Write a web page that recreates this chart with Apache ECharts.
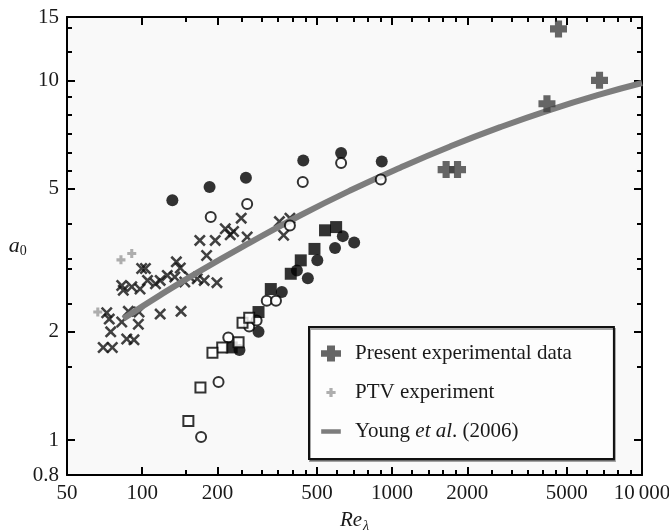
<!DOCTYPE html>
<html><head><meta charset="utf-8">
<script src="https://cdn.jsdelivr.net/npm/echarts@6/dist/echarts.min.js"></script>
<style>html,body{margin:0;padding:0;background:#fff}#c{width:669px;height:530px}</style>
</head><body><div id="c"></div>
<script>
// ---------- data ----------
const presentRe = [1645, 1827, 4165, 4633, 6760];
const presentA0 = [5.65, 5.65, 8.61, 13.9, 10.0];

const ptvRe = [66.4, 82.2, 90.8];
const ptvA0 = [2.27, 3.17, 3.30];

const youngRe = [84, 118, 170, 270, 428, 679, 1077, 1707, 2707, 4291, 6804, 10000];
const youngA0 = [2.175, 2.53, 2.95, 3.54, 4.21, 4.94, 5.72, 6.55, 7.41, 8.28, 9.14, 9.83];

const filledCircleRe = [132, 186, 260, 441, 625, 909, 635, 705, 591, 502, 460, 416, 362, 292, 245];
const filledCircleA0 = [4.64, 5.05, 5.36, 5.99, 6.28, 5.95, 3.69, 3.54, 3.42, 3.16, 2.82, 2.96, 2.58, 2.00, 1.78];

const openCircleRe = [188, 263, 439, 625, 901, 390, 315, 343, 268, 287, 221, 202, 172];
const openCircleA0 = [4.17, 4.53, 5.22, 5.89, 5.30, 3.95, 2.44, 2.44, 2.07, 2.15, 1.93, 1.45, 1.02];

const filledSquareRe = [539, 597, 489, 431, 393, 327, 292, 228];
const filledSquareA0 = [3.83, 3.91, 3.40, 3.16, 2.90, 2.63, 2.27, 1.81];

const openSquareRe = [252, 268, 243, 209, 191, 171, 153];
const openSquareA0 = [2.12, 2.19, 1.87, 1.81, 1.75, 1.40, 1.13];

const crossRe = [69.8, 75.9, 74.8, 86.7, 92.7, 82.8, 72.1, 73.8, 88.0, 96.5, 97.1, 118, 143, 82.8, 84, 90.8, 98, 99.5, 103, 105, 113, 118, 126, 135, 137, 142, 148, 155, 166, 177, 199, 170, 196, 181, 215, 225, 249, 232, 263, 354, 368, 390];
const crossA0 = [1.81, 1.81, 2.00, 1.91, 1.90, 2.13, 2.26, 2.17, 2.28, 2.10, 2.27, 2.24, 2.28, 2.69, 2.61, 2.67, 2.63, 3.00, 3.00, 2.78, 2.72, 2.78, 2.87, 2.84, 3.13, 3.01, 2.75, 2.84, 2.81, 2.78, 2.74, 3.59, 3.59, 3.26, 3.87, 3.72, 4.14, 3.80, 3.67, 4.05, 3.71, 4.14];

// ---------- axis ticks / labels ----------
const xLabels = [50, 100, 200, 500, 1000, 2000, 5000, 10000];
const xMajorTicks = [100, 200, 500, 1000, 2000, 5000];
const xMinorTicks = [150, 250, 300, 350, 400, 450, 600, 700, 800, 900, 1200, 1400, 1600, 1800, 2500, 3000, 3500, 4000, 4500, 6000, 7000, 8000, 9000];
const yLabels = [0.8, 1, 2, 5, 10, 15];
const yMajorTicks = [1, 2, 5, 10];
const yMinorTicks = [1.6, 2.4, 3, 3.2, 4, 5.6, 6.3, 7.1, 8, 9, 12, 14];

const legendNames = ['Present experimental data', 'PTV experiment', 'Young et al. (2006)'];

// ---------- helpers ----------
const zip = (a, b) => a.map((v, i) => [v, b[i]]);
const SERIF = 'Liberation Serif';
const INK = '#1a1a1a';
const FS = 21;
const PLUS_BIG = 'path://M29,0L71,0L71,29L100,29L100,71L71,71L71,100L29,100L29,71L0,71L0,29L29,29Z';
const PLUS_SMALL = 'path://M33,0L67,0L67,33L100,33L100,67L67,67L67,100L33,100L33,67L0,67L0,33L33,33Z';
const X_MARK = 'path://M0,15L15,0L50,35L85,0L100,15L65,50L100,85L85,100L50,65L15,100L0,85L35,50Z';
const ANCH = 'M0,0L0.5,0L0,0.5Z M380,200L379.5,200L380,199.5Z ';
const ICON_PRESENT = 'path://' + ANCH + 'M150,20L230,20L230,68L290,68L290,132L230,132L230,180L150,180L150,132L90,132L90,68L150,68Z';
const ICON_PTV = 'path://' + ANCH + 'M174,55L206,55L206,84L236,84L236,116L206,116L206,145L174,145L174,116L144,116L144,84L174,84Z';
const ICON_YOUNG = 'path://' + ANCH + 'M92,78L288,78L288,122L92,122Z';

function fmt(v) {
  if (Math.abs(v - 10000) < 1e-6) return '10\u2009000';
  return String(+v.toPrecision(6));
}

function xAxisDef(pos, major, withLabels, withLine) {
  return {
    type: 'log', logBase: 10, min: 50, max: 10000, position: pos, z: 3,
    name: withLabels ? '{i|Re}{s|λ}' : '',
    nameLocation: 'middle', nameGap: 32,
    nameTextStyle: { rich: {
      i: { fontFamily: SERIF, fontStyle: 'italic', fontSize: 21, color: INK },
      s: { fontFamily: SERIF, fontStyle: 'italic', fontSize: 14, color: INK, verticalAlign: 'bottom', padding: [12, 0, 0, 1] }
    } },
    axisLine: { show: withLine, lineStyle: { color: '#000', width: 2 } },
    axisTick: { show: true, inside: true, length: major ? 8 : 5, customValues: major ? xMajorTicks : xMinorTicks, lineStyle: { color: '#000', width: 2 } },
    axisLabel: { show: withLabels, customValues: xLabels, formatter: fmt, margin: 8, fontFamily: SERIF, fontSize: FS, color: INK, hideOverlap: false },
    splitLine: { show: false }, minorTick: { show: false }
  };
}
function yAxisDef(pos, major, withLabels, withLine) {
  return {
    type: 'log', logBase: 10, min: 0.8, max: 15, position: pos, z: 3,
    name: withLabels ? '{i|a}{s|0}' : '',
    nameLocation: 'middle', nameGap: 40, nameRotate: 0,
    nameTextStyle: { rich: {
      i: { fontFamily: SERIF, fontStyle: 'italic', fontSize: 22, color: INK },
      s: { fontFamily: SERIF, fontSize: 14, color: INK, verticalAlign: 'bottom', padding: [10, 0, 0, 0] }
    } },
    axisLine: { show: withLine, lineStyle: { color: '#000', width: 2 } },
    axisTick: { show: true, inside: true, length: major ? 8 : 5, customValues: major ? yMajorTicks : yMinorTicks, lineStyle: { color: '#000', width: 2 } },
    axisLabel: { show: withLabels, customValues: yLabels, formatter: fmt, margin: 8, fontFamily: SERIF, fontSize: FS, color: INK, hideOverlap: false },
    splitLine: { show: false }, minorTick: { show: false }
  };
}

const chart = echarts.init(document.getElementById('c'), null, { renderer: 'canvas' });
chart.setOption({
  animation: false,
  backgroundColor: '#ffffff',
  grid: { left: 67, right: 27, top: 17, bottom: 55, containLabel: false, outerBoundsMode: 'none',
          show: true, backgroundColor: '#f9f9f9', borderWidth: 0, z: 0 },
  xAxis: [
    xAxisDef('bottom', true, true, true),
    xAxisDef('bottom', false, false, false),
    xAxisDef('top', true, false, true),
    xAxisDef('top', false, false, false)
  ],
  yAxis: [
    yAxisDef('left', true, true, true),
    yAxisDef('left', false, false, false),
    yAxisDef('right', true, false, true),
    yAxisDef('right', false, false, false)
  ],
  legend: {
    data: [
      { name: legendNames[0], icon: ICON_PRESENT },
      { name: legendNames[1], icon: ICON_PTV },
      { name: legendNames[2], icon: ICON_YOUNG }
    ],
    orient: 'vertical', left: 309, top: 327,
    itemWidth: 38, itemHeight: 20, itemGap: 18,
    padding: [16, 42, 17, 3],
    borderColor: '#111', borderWidth: 2, backgroundColor: '#fdfdfd',
    shadowColor: 'rgba(0,0,0,0.35)', shadowOffsetY: 2, shadowOffsetX: 1, shadowBlur: 0,
    itemStyle: { borderWidth: 0 },
    selectedMode: false,
    formatter: n => n === legendNames[2] ? 'Young {i|et al}. (2006)' : n,
    textStyle: { fontFamily: SERIF, fontSize: FS, color: INK, lineHeight: 20,
      rich: { i: { fontFamily: SERIF, fontStyle: 'italic', fontSize: FS, color: INK, lineHeight: 20 } } }
  },
  series: [
    { name: 'crosses', type: 'scatter', symbol: X_MARK, symbolSize: 12, itemStyle: { color: '#111' }, data: zip(crossRe, crossA0), z: 2 },
    { name: legendNames[2], type: 'line', smooth: true, showSymbol: false, symbol: 'none', lineStyle: { color: '#7d7d7d', width: 6 }, itemStyle: { color: '#7d7d7d' }, data: zip(youngRe, youngA0), z: 3 },
    { name: 'filled circles', type: 'scatter', symbol: 'circle', symbolSize: 12, itemStyle: { color: '#000' }, data: zip(filledCircleRe, filledCircleA0), z: 4 },
    { name: 'open circles', type: 'scatter', symbol: 'circle', symbolSize: 10, itemStyle: { color: '#fff', borderColor: '#000', borderWidth: 2 }, data: zip(openCircleRe, openCircleA0), z: 4 },
    { name: 'filled squares', type: 'scatter', symbol: 'rect', symbolSize: 12, itemStyle: { color: '#000' }, data: zip(filledSquareRe, filledSquareA0), z: 4 },
    { name: 'open squares', type: 'scatter', symbol: 'rect', symbolSize: 10, itemStyle: { color: '#fff', borderColor: '#000', borderWidth: 2 }, data: zip(openSquareRe, openSquareA0), z: 4 },
    { name: legendNames[1], type: 'scatter', symbol: PLUS_SMALL, symbolSize: 9, itemStyle: { color: '#9a9a9a' }, data: zip(ptvRe, ptvA0), z: 5 },
    { name: legendNames[0], type: 'scatter', symbol: PLUS_BIG, symbolSize: 17, itemStyle: { color: '#404040' }, data: zip(presentRe, presentA0), z: 5 }
  ]
});
</script>
</body></html>
